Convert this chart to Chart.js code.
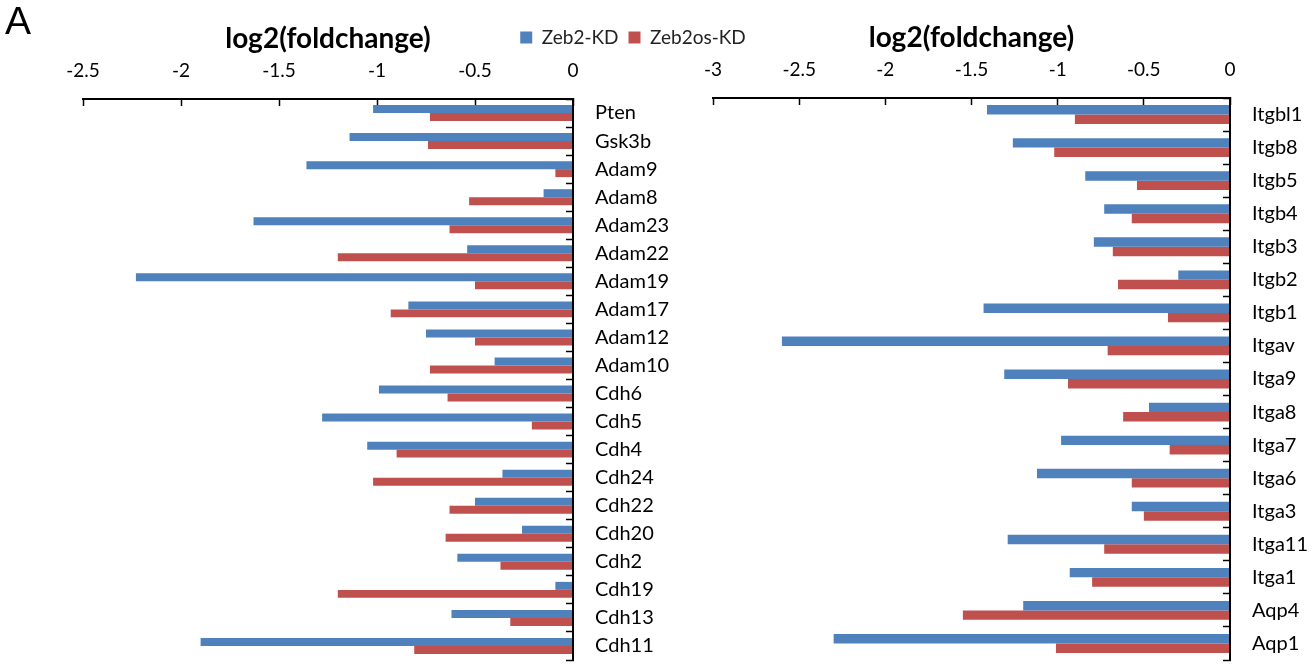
<!DOCTYPE html>
<html>
<head>
<meta charset="utf-8">
<script src="https://cdn.jsdelivr.net/npm/chart.js@4.4.1/dist/chart.umd.min.js"></script>
<style>
  body { margin: 0; background: #fff; }
  #wrap { position: relative; width: 1316px; height: 665px; overflow: hidden; }
  #wrap canvas { position: absolute; left: 0; top: 0; }
  #panelLetter { position: absolute; left: 5px; top: -1px; font: 39px "Liberation Sans", Arial, sans-serif; color: #000; }
</style>
</head>
<body>
<div id="wrap">
  <canvas id="leftChart" width="1316" height="665"></canvas>
  <canvas id="rightChart" width="1316" height="665"></canvas>
  <div id="panelLetter">A</div>
</div>
<script>
const SERIES_NAMES = ["Zeb2-KD", "Zeb2os-KD"];
const AXIS_TITLE = "log2(foldchange)";

const leftGenes = ["Pten", "Gsk3b", "Adam9", "Adam8", "Adam23", "Adam22", "Adam19", "Adam17", "Adam12", "Adam10",
  "Cdh6", "Cdh5", "Cdh4", "Cdh24", "Cdh22", "Cdh20", "Cdh2", "Cdh19", "Cdh13", "Cdh11"];
const leftZeb2 = [-1.02, -1.14, -1.36, -0.15, -1.63, -0.54, -2.23, -0.84, -0.75, -0.40,
  -0.99, -1.28, -1.05, -0.36, -0.50, -0.26, -0.59, -0.09, -0.62, -1.90];
const leftZeb2os = [-0.73, -0.74, -0.09, -0.53, -0.63, -1.20, -0.50, -0.93, -0.50, -0.73,
  -0.64, -0.21, -0.90, -1.02, -0.63, -0.65, -0.37, -1.20, -0.32, -0.81];

const rightGenes = ["Itgbl1", "Itgb8", "Itgb5", "Itgb4", "Itgb3", "Itgb2", "Itgb1", "Itgav", "Itga9", "Itga8",
  "Itga7", "Itga6", "Itga3", "Itga11", "Itga1", "Aqp4", "Aqp1"];
const rightZeb2 = [-1.41, -1.26, -0.84, -0.73, -0.79, -0.30, -1.43, -2.60, -1.31, -0.47,
  -0.98, -1.12, -0.57, -1.29, -0.93, -1.20, -2.30];
const rightZeb2os = [-0.90, -1.02, -0.54, -0.57, -0.68, -0.65, -0.36, -0.71, -0.94, -0.62,
  -0.35, -0.57, -0.50, -0.73, -0.80, -1.55, -1.01];

const leftTicks = [-2.5, -2, -1.5, -1, -0.5, 0];
const rightTicks = [-3, -2.5, -2, -1.5, -1, -0.5, 0];

const BLUE = "#4F81BD";
const RED = "#C0504D";
const FONT = "Lato, 'Open Sans', sans-serif";

function makePanel(canvasId, genes, zeb2, zeb2os, xTicks, cfg) {
  const ctx = document.getElementById(canvasId).getContext("2d");
  return new Chart(ctx, {
    type: "bar",
    data: {
      labels: genes,
      datasets: [
        { label: SERIES_NAMES[0], data: zeb2, backgroundColor: BLUE },
        { label: SERIES_NAMES[1], data: zeb2os, backgroundColor: RED },
      ],
    },
    options: {
      indexAxis: "y",
      responsive: false,
      animation: false,
      categoryPercentage: 0.57,
      barPercentage: 1,
      layout: { padding: cfg.padding },
      plugins: {
        legend: {
          display: cfg.legend,
          position: "top",
          labels: {
            color: "#222",
            boxWidth: 12,
            boxHeight: 12,
            padding: 10,
            font: { family: FONT, size: 19 },
          },
        },
        tooltip: { enabled: false },
      },
      scales: {
        x: {
          position: "top",
          min: xTicks[0],
          max: xTicks[xTicks.length - 1],
          afterBuildTicks: (scale) => {
            scale.ticks = xTicks.map((v) => ({ value: v }));
          },
          afterFit: (scale) => {
            scale.height = cfg.xHeight;
          },
          grid: {
            drawOnChartArea: false,
            drawTicks: true,
            tickLength: -7,
            tickColor: "#000",
            tickWidth: 1.5,
          },
          border: { display: true, color: "#000", width: 2, z: 1 },
          ticks: {
            color: "#000",
            padding: 24,
            maxRotation: 0,
            font: { family: FONT, size: 19 },
            callback: (value) => String(value),
          },
          title: {
            display: true,
            text: AXIS_TITLE,
            color: "#000",
            font: { family: FONT, size: 28, weight: "bold" },
            padding: { top: cfg.titleTop, bottom: 0 },
          },
        },
        y: {
          position: "right",
          afterFit: (scale) => {
            scale.width = cfg.yWidth;
            // tick padding would otherwise reserve space above and below the plot
            scale.paddingTop = 0;
            scale.paddingBottom = 0;
          },
          grid: {
            drawOnChartArea: false,
            drawTicks: true,
            tickLength: -7,
            tickColor: "#000",
            tickWidth: 1.5,
          },
          border: { display: true, color: "#000", width: 2, z: 1 },
          ticks: {
            color: "#000",
            padding: 29,
            autoSkip: false,
            font: { family: FONT, size: 20 },
          },
        },
      },
    },
  });
}

makePanel("leftChart", leftGenes, leftZeb2, leftZeb2os, leftTicks, {
  legend: true,
  padding: { top: 18, left: 83, right: 133, bottom: 5 },
  xHeight: 42,
  titleTop: -34.8,
  yWidth: 610,
});

makePanel("rightChart", rightGenes, rightZeb2, rightZeb2os, rightTicks, {
  legend: false,
  padding: { top: 18, left: 713, right: 0, bottom: 5 },
  xHeight: 80,
  titleTop: 3.2,
  yWidth: 86,
});
</script>
</body>
</html>
